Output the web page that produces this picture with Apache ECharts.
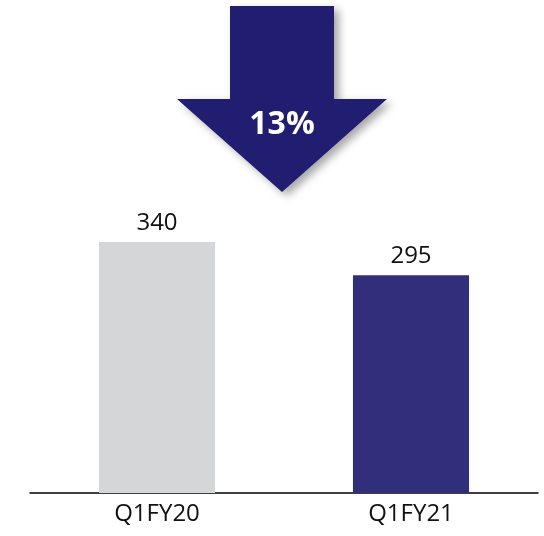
<!DOCTYPE html>
<html>
<head>
<meta charset="utf-8">
<style>
  html, body { margin: 0; padding: 0; background: #ffffff; }
  #chart { width: 544px; height: 536px; }
</style>
<script src="https://cdn.jsdelivr.net/npm/echarts@6/dist/echarts.min.js"></script>
</head>
<body>
<div id="chart"></div>
<script>
// Quarterly totals
const categories = ['Q1FY20', 'Q1FY21'];
const values = [340, 295];
const barColors = ['#d5d6d8', '#312e7b'];
const changeText = '13%';

const FONT = '"Open Sans", "Liberation Sans", sans-serif';

const chart = echarts.init(document.getElementById('chart'), null, { renderer: 'canvas' });

chart.setOption({
  animation: false,
  grid: { left: 30, right: 6, top: 50, bottom: 43, containLabel: false },
  xAxis: {
    type: 'category',
    data: categories,
    axisLine: { show: true, lineStyle: { color: '#000000', width: 1.5 } },
    axisTick: { show: false },
    axisLabel: { color: '#111111', fontFamily: FONT, fontSize: 24, margin: 9 }
  },
  yAxis: {
    type: 'value',
    min: 0,
    max: 600,
    show: false,
    splitLine: { show: false }
  },
  series: [{
    type: 'bar',
    barWidth: '45.7%',
    data: values.map((v, i) => ({ value: v, itemStyle: { color: barColors[i] } })),
    label: {
      show: true,
      position: 'top',
      distance: 7,
      color: '#111111',
      fontFamily: FONT,
      fontSize: 24
    }
  }],
  graphic: [{
    // Down arrow marking the year-on-year decline
    type: 'group',
    children: [{
      type: 'polygon',
      shape: {
        points: [[230, 6], [334, 6], [334, 99], [387, 99], [282, 192], [177, 99], [230, 99]]
      },
      style: {
        fill: '#211d71',
        shadowBlur: 8,
        shadowOffsetX: 5,
        shadowOffsetY: 4,
        shadowColor: 'rgba(0,0,0,0.35)'
      }
    }, {
      type: 'text',
      x: 282,
      y: 125,
      style: {
        text: changeText,
        fill: '#ffffff',
        font: 'bold 32px ' + FONT,
        align: 'center',
        verticalAlign: 'middle'
      }
    }]
  }]
});
</script>
</body>
</html>
